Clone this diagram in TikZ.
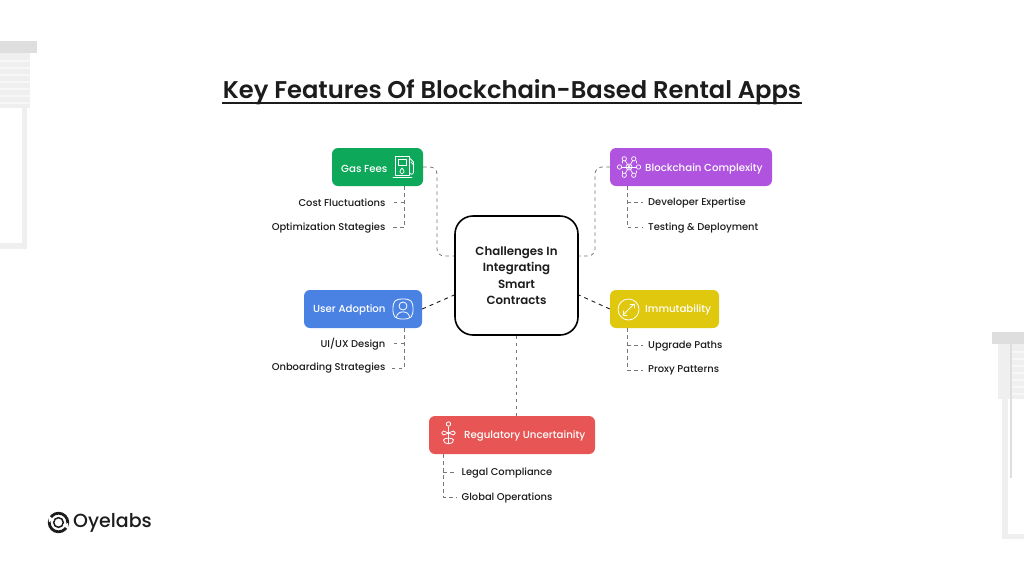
\documentclass[tikz,border=0pt]{standalone}
\usepackage{fontspec}
\setmainfont{Poppins}
\newfontfamily\medfont{Poppins Medium}
\newfontfamily\semifont{Poppins SemiBold}
\definecolor{gasc}{HTML}{0DA85A}
\definecolor{blockc}{HTML}{B054E0}
\definecolor{userc}{HTML}{4A82E4}
\definecolor{immc}{HTML}{DFC80E}
\definecolor{regc}{HTML}{E85555}
\definecolor{dashc}{HTML}{777777}
\definecolor{bgc}{HTML}{EFEFEF}
\definecolor{bgd}{HTML}{DEDEDE}
\definecolor{inkc}{HTML}{1C1C1C}
\tikzset{
  catlabel/.style={text=white,inner sep=0pt,anchor=west,font=\medfont\fontsize{10.2pt}{12pt}\selectfont},
  catbox/.style={rounded corners=6pt,minimum height=38pt,inner sep=0pt},
  itemlabel/.style={text=inkc,inner sep=0pt,font=\medfont\fontsize{9.9pt}{12pt}\selectfont},
  dashline/.style={draw=dashc,line width=0.8pt,dash pattern=on 3.5pt off 3.5pt},
  darkdash/.style={draw=inkc,line width=0.9pt,dash pattern=on 4pt off 4pt},
  icon/.style={draw=white,line width=0.8pt,line cap=round,line join=round},
}
\begin{document}
\begin{tikzpicture}[x=1pt,y=-1pt]
\useasboundingbox (0,0) rectangle (1024,576);
\fill[white] (0,0) rectangle (1024,576);
% decorative left blind
\fill[bgc] (22,53) rectangle (27,249);
\fill[bgc] (0,243) rectangle (27,249);
\fill[bgd] (0,41) rectangle (37,53);
\fill[bgc] (0,53) rectangle (30,108);
\foreach \yy in {60,67,74,81,88,95,102}{\fill[white!50!bgc] (0,\yy) rectangle (30,\yy+2);}
% decorative right blind
\fill[bgc] (1002,343) rectangle (1008,539);
\fill[bgc] (1002,534) rectangle (1024,539);
\fill[bgd] (992,332) rectangle (1024,344);
\fill[bgc] (998,344) rectangle (1024,399);
\foreach \yy in {351,358,365,372,379,386,393}{\fill[white!50!bgc] (1012,\yy) rectangle (1024,\yy+2);}
\fill[bgd] (1010,344) rectangle (1011.5,478);
% title
\node[inner sep=0pt,text=inkc,font=\semifont\fontsize{24.2pt}{28pt}\selectfont] (title) at (512,92) {Key Features Of Blockchain-Based Rental Apps};
\coordinate (ula) at (222,103);\coordinate (ulb) at (802,103);
\draw[inkc,line width=1.6pt] (ula) -- (ulb);
% center
\node[draw=black,line width=1.6pt,rounded corners=18pt,minimum width=123pt,minimum height=119pt,align=center,inner sep=0pt,text=inkc,font=\semifont\fontsize{11.8pt}{16.4pt}\selectfont] (center) at (516.5,275.5) {Challenges In\\Integrating\\Smart\\Contracts};
% category boxes
\node[catbox,fill=gasc,minimum width=91pt] (gas) at (377.5,167) {};
\node[catbox,fill=blockc,minimum width=162pt] (block) at (691,167) {};
\node[catbox,fill=userc,minimum width=118pt] (user) at (363,309) {};
\node[catbox,fill=immc,minimum width=109pt] (imm) at (664.5,309) {};
\node[catbox,fill=regc,minimum width=166pt] (reg) at (512,435) {};
\node[catlabel] (gast) at (341,168.5) {Gas Fees};
\node[catlabel] (blockt) at (645,168.5) {Blockchain Complexity};
\node[catlabel] (usert) at (313,310) {User Adoption};
\node[catlabel] (immt) at (645,310) {Immutability};
\node[catlabel] (regt) at (464,436) {Regulatory Uncertainity};
% item labels
\node[itemlabel,anchor=east] (i1) at (385.5,203) {Cost Fluctuations};
\node[itemlabel,anchor=east] (i2) at (385.5,228) {Optimization Stategies};
\node[itemlabel,anchor=east] (i3) at (385.5,344) {UI/UX Design};
\node[itemlabel,anchor=east] (i4) at (385.5,368.5) {Onboarding Strategies};
\node[itemlabel,anchor=west] (i5) at (648,203) {Developer Expertise};
\node[itemlabel,anchor=west] (i6) at (648,228) {Testing \& Deployment};
\node[itemlabel,anchor=west] (i7) at (648,346) {Upgrade Paths};
\node[itemlabel,anchor=west] (i8) at (648,370.5) {Proxy Patterns};
\node[itemlabel,anchor=west] (i9) at (461.5,473) {Legal Compliance};
\node[itemlabel,anchor=west] (i10) at (461.5,497.5) {Global Operations};
% main connectors
\draw[dashline,rounded corners=7pt] (gas.east) -- (437,167) -- (437,256) -- (center.west |- 0,256);
\draw[dashline,rounded corners=7pt] (block.west) -- (595,167) -- (595,256) -- (center.east |- 0,256);
\draw[darkdash] (user.east) -- (center.west |- 0,295);
\draw[darkdash] (imm.west) -- (center.east |- 0,295);
\draw[dashline] (center.south) -- (reg.north -| center.south);
% item connectors
\draw[dashline,shorten >=4.5pt] (404,186) -- (404,227.5) -- (i2.east |- 0,227.5);
\draw[dashline,shorten >=4.5pt] (404,202.5) -- (i1.east |- 0,202.5);
\draw[dashline,shorten >=4.5pt] (404,328) -- (404,368) -- (i4.east |- 0,368);
\draw[dashline,shorten >=4.5pt] (404,343.5) -- (i3.east |- 0,343.5);
\draw[dashline,shorten >=5pt] (627,186) -- (627,227.5) -- (i6.west |- 0,227.5);
\draw[dashline,shorten >=5pt] (627,202.5) -- (i5.west |- 0,202.5);
\draw[dashline,shorten >=5pt] (627,328) -- (627,370) -- (i8.west |- 0,370);
\draw[dashline,shorten >=5pt] (627,345.5) -- (i7.west |- 0,345.5);
\draw[dashline,shorten >=4.5pt] (443,454) -- (443,497) -- (i10.west |- 0,497);
\draw[dashline,shorten >=4.5pt] (443,472.5) -- (i9.west |- 0,472.5);
% gas icon
\draw[icon] (395,156) rectangle (409.5,175);
\draw[icon] (398,159) rectangle (406.5,165.5);
\draw[icon] (393,177.5) -- (412,177.5);
\draw[icon] (402,168) .. controls (399,171) and (399.5,174) .. (402,174) .. controls (404.5,174) and (405,171) .. (402,168);
\draw[icon] (409.5,158) -- (413.5,162) -- (413.5,172) .. controls (413.5,175) and (409.5,175) .. (409.5,172);
\draw[icon] (411,162) -- (413.5,165);
% block icon: network
\foreach \a in {0,60,...,300}{
  \draw[icon,line width=0.7pt] (629,167) -- ++(\a:7.5);
  \draw[icon,line width=0.7pt] (629,167) ++(\a:9.5) circle (2.2);
}
\draw[icon,line width=0.7pt] (629,167) circle (3);
\draw[icon,line width=0.6pt] (629,167) ++(30:8) -- ++(90:2) (629,167) ++(150:8) -- ++(90:2) (629,167) ++(210:8) -- ++(-90:2) (629,167) ++(330:8) -- ++(-90:2);
% user icon
\draw[icon] (393,309) .. controls (393,301) and (395,299) .. (403,299) .. controls (411,299) and (413,301) .. (413,309) .. controls (413,317) and (411,319) .. (403,319) .. controls (395,319) and (393,317) .. (393,309) -- cycle;
\draw[icon] (403,306) circle (4);
\draw[icon] (396.5,317.5) .. controls (396.5,310) and (409.5,310) .. (409.5,317.5);
% immutability icon
\draw[icon] (628.5,309.5) circle (10.5);
\draw[icon] (623,315) -- (634,304);
\draw[icon] (630,304) -- (634,304) -- (634,308);
\draw[icon] (623,311) -- (623,315) -- (627,315);
% regulatory icon
\draw[icon] (448.5,427) -- (448.5,443);
\draw[icon] (448.5,424) circle (2.2);
\draw[icon] (448.5,433) -- (443.5,431) .. controls (441,431.5) and (441,434.5) .. (443.5,435) -- (448.5,433) -- (453.5,431) .. controls (456,431.5) and (456,434.5) .. (453.5,435) -- cycle;
\draw[icon] (443.5,440) .. controls (443.5,437.5) and (453.5,437.5) .. (453.5,440) .. controls (454,445) and (443,445) .. (443.5,440) -- cycle;
% logo
\draw[inkc,line width=2.8pt] (58.5,522.5) circle (9.3);
\draw[inkc,line width=1.5pt] (58.5,522.5) circle (4.8);
\fill[white] (48,515) -- (54.5,520) -- (49,522) -- cycle;
\fill[white] (69,530) -- (62.5,525) -- (68,523) -- cycle;
\node[inner sep=0pt,anchor=west,text=inkc,font=\medfont\fontsize{19pt}{24pt}\selectfont] (logo) at (73,523) {Oyelabs};
\end{tikzpicture}
\end{document}
